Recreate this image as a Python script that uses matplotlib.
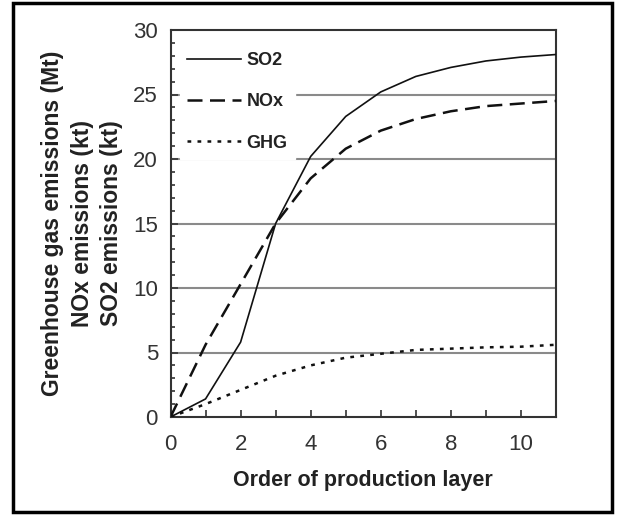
import matplotlib
matplotlib.use('Agg')
import matplotlib.pyplot as plt
from matplotlib.patches import Rectangle
from matplotlib.ticker import MultipleLocator

plt.rcParams['font.family'] = ['Liberation Sans', 'DejaVu Sans']

# data
layers = [0, 1, 2, 3, 4, 5, 6, 7, 8, 9, 10, 11]
so2 = [0, 1.4, 5.8, 15.0, 20.2, 23.3, 25.2, 26.4, 27.1, 27.6, 27.9, 28.1]
nox = [0, 5.6, 10.3, 15.0, 18.5, 20.8, 22.2, 23.1, 23.7, 24.1, 24.3, 24.5]
ghg = [0, 1.0, 2.1, 3.2, 4.0, 4.6, 4.9, 5.2, 5.3, 5.4, 5.45, 5.6]
gridVals = [5, 10, 15, 20, 25]

fig = plt.figure(figsize=(6.22, 5.19), dpi=100)
ax = fig.add_axes([170.5/622, 1-417/519, 385.5/622, 387/519])

for g in gridVals:
    ax.axhline(g, color='#8a8a8a', lw=1.5, zorder=1)

ax.plot(layers, so2, color='#111111', lw=1.2, label='SO2', zorder=3)
ax.plot(layers, nox, color='#111111', lw=1.8, dashes=(6, 3), label='NOx', zorder=3)
ax.plot(layers, ghg, color='#111111', lw=1.8, dashes=(1.5, 2.5), label='GHG', zorder=3)

ax.set_xlim(0, 11)
ax.set_ylim(0, 30)
ax.xaxis.set_major_locator(MultipleLocator(2))
ax.xaxis.set_minor_locator(MultipleLocator(1))
ax.yaxis.set_major_locator(MultipleLocator(5))
ax.yaxis.set_minor_locator(MultipleLocator(1))
ax.tick_params(which='both', direction='in', color='#333333', width=1.2, labelsize=16, labelcolor='#333333')
ax.tick_params(which='major', length=5)
ax.tick_params(axis='y', which='major', pad=9)
ax.tick_params(axis='x', which='major', pad=12)
ax.tick_params(which='minor', length=3)
ax.tick_params(axis='x', which='minor', length=5)
for s in ax.spines.values():
    s.set_linewidth(1.5)
    s.set_color('#333333')

ax.set_xlabel('Order of production layer', fontsize=15.5, fontweight='bold', color='#222222', labelpad=11)
ax.set_ylabel('Greenhouse gas emissions (Mt)\nNOx emissions (kt)\nSO2 emissions (kt)',
              fontsize=16.5, fontweight='bold', color='#222222', linespacing=1.38, labelpad=7)

leg = ax.legend(loc='upper left', bbox_to_anchor=(0.0, 0.985), frameon=True, fancybox=False,
                edgecolor='white', facecolor='white', framealpha=1, handlelength=3.0,
                handletextpad=0.3, labelspacing=1.35, borderpad=0.4,
                prop={'size': 13, 'weight': 'bold'})
leg.set_zorder(2)
for t in leg.get_texts():
    t.set_color('#222222')

fig.patches.append(Rectangle((13/622, 1-512/519), 599/622, 509/519, transform=fig.transFigure,
                             fill=False, edgecolor='black', lw=2.5))

fig.savefig('out.png', dpi=100)
